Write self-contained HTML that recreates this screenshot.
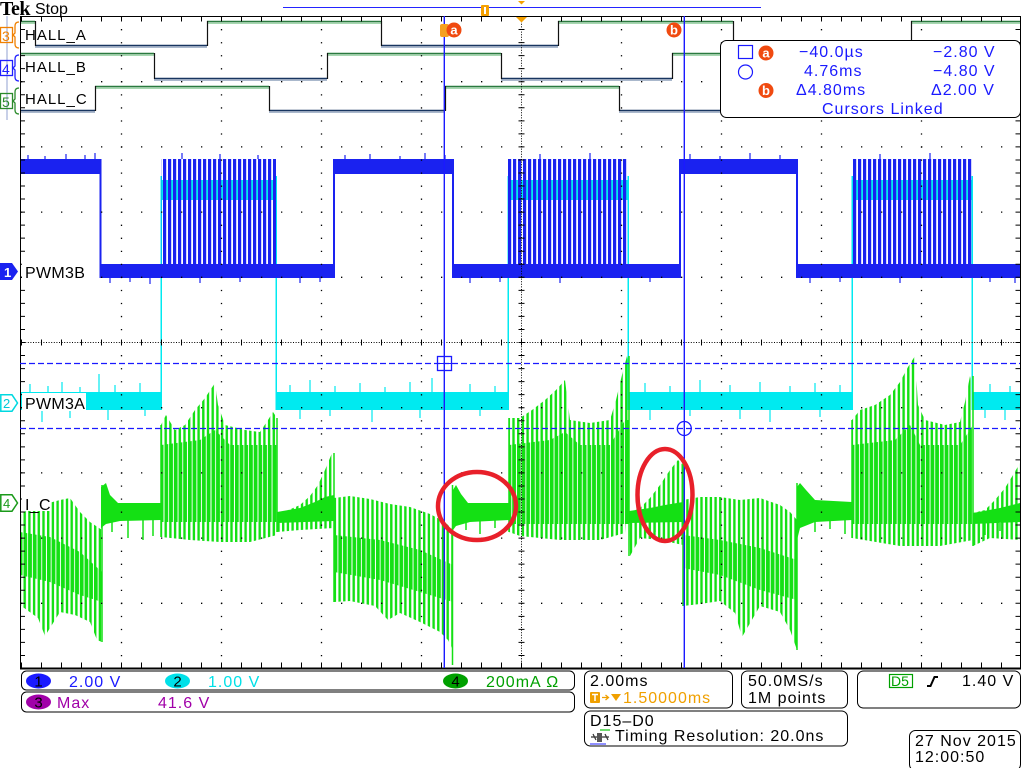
<!DOCTYPE html>
<html><head><meta charset="utf-8">
<style>
html,body{margin:0;padding:0;background:#fff;overflow:hidden;width:1024px;height:768px;}
svg{display:block;}
text{font-family:"Liberation Sans",sans-serif;}
</style></head><body>
<svg width="1024" height="768" viewBox="0 0 1024 768" xmlns="http://www.w3.org/2000/svg">
<defs>
<pattern id="gs" patternUnits="userSpaceOnUse" width="4.7" height="8"><rect x="0" y="0" width="2.4" height="8" fill="#14e014"/></pattern>
<pattern id="gd" patternUnits="userSpaceOnUse" width="4.7" height="8"><rect x="0" y="0" width="3.7" height="8" fill="#14e014"/></pattern>
<pattern id="bp" patternUnits="userSpaceOnUse" x="508" width="5" height="8"><rect x="0" y="0" width="3.2" height="8" fill="#1a22f0"/></pattern>
</defs>
<rect width="1024" height="768" fill="#fff"/>

<!-- header -->
<text x="0" y="15" style="font-family:'Liberation Serif',serif;font-weight:bold;font-size:20px;letter-spacing:-0.5px">Tek</text>
<text x="35" y="14" font-size="16">Stop</text>
<line x1="283" y1="7.5" x2="761" y2="7.5" stroke="#2424ff" stroke-width="1"/>
<rect x="481" y="5" width="8" height="11" rx="1" fill="#f5a000"/>
<rect x="484" y="7" width="2" height="7" fill="#fff"/>
<polygon points="518,1 525,1 521.5,4.5" fill="#f5a000"/>

<line x1="7" y1="16" x2="7" y2="120" stroke="#c8d0e8" stroke-width="2"/>

<!-- digital HALL traces -->
<g fill="none">
<path d="M20 21.5H35M207 21.5H381M558 21.5H733M911 21.5H1020" stroke="#2b7a40" stroke-width="1.6"/>
<path d="M20 23.2H35M207 23.2H381M558 23.2H733M911 23.2H1020" stroke="#a6d8b0" stroke-width="1.5"/>
<path d="M35 45.5H207M381 45.5H558M733 45.5H911" stroke="#183560" stroke-width="1.6"/>
<path d="M35 47.2H207M381 47.2H558M733 47.2H911" stroke="#aab8cc" stroke-width="1.5"/>
<path d="M35.5 21V46M207.5 21V46M381.5 21V46M558.5 21V46M733.5 21V46M911.5 21V46" stroke="#111" stroke-width="1.2"/>

<path d="M20 53.5H154M327 53.5H501M672 53.5H848" stroke="#2b7a40" stroke-width="1.6"/>
<path d="M20 55.2H154M327 55.2H501M672 55.2H848" stroke="#a6d8b0" stroke-width="1.5"/>
<path d="M154 78.5H327M501 78.5H672M848 78.5H1020" stroke="#183560" stroke-width="1.6"/>
<path d="M154 80.2H327M501 80.2H672M848 80.2H1020" stroke="#aab8cc" stroke-width="1.5"/>
<path d="M154.5 53V79M327.5 53V79M501.5 53V79M672.5 53V79M848.5 53V79" stroke="#111" stroke-width="1.2"/>

<path d="M95 86.5H269M445 86.5H619M795 86.5H969" stroke="#2b7a40" stroke-width="1.6"/>
<path d="M95 88.2H269M445 88.2H619M795 88.2H969" stroke="#a6d8b0" stroke-width="1.5"/>
<path d="M20 110.5H95M269 110.5H445M619 110.5H795M969 110.5H1020" stroke="#183560" stroke-width="1.6"/>
<path d="M20 112.2H95M269 112.2H445M619 112.2H795M969 112.2H1020" stroke="#aab8cc" stroke-width="1.5"/>
<path d="M95.5 86V111M269.5 86V111M445.5 86V111M619.5 86V111M795.5 86V111M969.5 86V111" stroke="#111" stroke-width="1.2"/>
</g>

<!-- CH2 cyan -->
<g fill="#00eaf0">
<rect x="20" y="392" width="141" height="18"/>
<rect x="276" y="392" width="232" height="18"/>
<rect x="628" y="392" width="224" height="18"/>
<rect x="972" y="392" width="48" height="18"/>
<rect x="161" y="180" width="115" height="20"/>
<rect x="508" y="180" width="120" height="20"/>
<rect x="852" y="180" width="120" height="20"/>
<rect x="160.5" y="176" width="1.5" height="234"/>
<rect x="275.5" y="176" width="1.5" height="234"/>
<rect x="507.5" y="176" width="1.5" height="234"/>
<rect x="627.5" y="176" width="1.5" height="234"/>
<rect x="851.5" y="176" width="1.5" height="234"/>
<rect x="971.5" y="176" width="1.5" height="234"/>
</g>
<path d="M30 392v-8M48 392v-6M62 392v-10M80 392v-5M99 392v-18M115 392v-7M140 392v-9M290 392v-7M310 392v-12M335 392v-6M360 392v-9M385 392v-5M410 392v-10M432 392v-14M470 392v-8M495 392v-6M645 392v-9M670 392v-6M700 392v-12M730 392v-7M760 392v-10M790 392v-6M815 392v-9M840 392v-7M990 392v-8M1010 392v-6
M42 410v12M70 410v8M108 410v10M145 410v6M300 410v9M330 410v6M372 410v12M420 410v8M480 410v6M650 410v10M690 410v6M740 410v9M770 410v12M820 410v7M985 410v8M1005 410v10" stroke="#00eaf0" stroke-width="1.2" fill="none"/>

<!-- CH1 blue -->
<g fill="#1a22f0">
<rect x="20" y="159" width="81" height="15"/>
<rect x="334" y="159" width="119" height="15"/>
<rect x="680" y="159" width="117" height="15"/>
<rect x="100" y="264" width="234" height="14"/>
<rect x="453" y="264" width="227" height="14"/>
<rect x="797" y="264" width="223" height="14"/>
<rect x="99.5" y="159" width="2" height="119"/>
<rect x="333" y="159" width="2" height="119"/>
<rect x="452" y="159" width="2" height="119"/>
<rect x="679" y="159" width="2" height="119"/>
<rect x="796" y="159" width="2" height="119"/>
<rect x="161" y="159" width="115" height="106" fill="url(#bp)"/>
<rect x="508" y="159" width="120" height="106" fill="url(#bp)"/>
<rect x="852" y="159" width="120" height="106" fill="url(#bp)"/>
</g>
<path d="M28 159v-4M45 159v-3M66 159v-5M85 159v-4M95 159v-6M345 159v-4M370 159v-5M400 159v-3M425 159v-6M445 159v-4M690 159v-5M720 159v-3M750 159v-6M780 159v-4M182 159v-6M220 159v-5M258 159v-4M540 159v-5M590 159v-6M880 159v-5M930 159v-6
M110 278v5M130 278v4M150 278v6M200 278v5M240 278v4M300 278v5M320 278v4M470 278v5M500 278v4M560 278v5M650 278v4M810 278v5M840 278v4M900 278v5M990 278v4M1015 278v5" stroke="#1a22f0" stroke-width="1.2" fill="none"/>

<!-- CH4 green I_C -->
<g>
<path d="M20 515L30 508L45 504L60 500L70 498L80 512L90 522L102 530L102 642L97 640L90 622L75 615L60 612L45 636L38 618L20 605Z" fill="url(#gs)"/>
<path d="M20 532L50 537L80 552L102 572L102 602L80 595L50 582L20 575Z" fill="url(#gd)"/>
<path d="M101 487L106 483L110 495L118 503L161 503L161 520L120 521L106 524L101 528Z" fill="#14e014"/>
<path d="M161 425L166 415L175 430L185 425L195 410L205 398L215 383L218 405L225 425L245 430L260 432L268 420L273 412L277 418L277 535L250 542L220 542L190 540L161 537Z" fill="url(#gs)"/>
<path d="M161 445L200 440L215 430L230 445L277 445L277 522L161 522Z" fill="url(#gd)"/>
<path d="M277 515L300 505L310 496L318 485L325 470L332 453L334 458L334 528L300 530L277 532Z" fill="url(#gs)"/>
<path d="M277 512L300 508L315 502L325 497L334 495L334 521L277 523Z" fill="#14e014"/>
<path d="M334 498L350 496L370 499L390 504L410 507L430 514L445 522L453 530L453 650L448 640L440 632L420 622L400 613L388 620L375 606L350 601L334 602Z" fill="url(#gs)"/>
<path d="M334 535L380 540L420 550L453 565L453 602L420 592L380 580L334 572Z" fill="url(#gd)"/>
<path d="M453 490L456 485L461 494L468 503L509 503L509 520L470 522L456 526L453 530Z" fill="#14e014"/>
<path d="M509 418L520 418L532 410L545 400L556 390L565 380L570 420L590 423L610 420L616 400L622 375L627 356L629 368L629 470L625 533L600 540L560 540L520 536L509 532Z" fill="url(#gs)"/>
<path d="M509 445L550 440L565 432L580 445L610 445L625 420L629 420L629 524L509 524Z" fill="url(#gd)"/>
<path d="M629 513L640 508L650 498L660 485L670 470L678 460L683 465L683 545L660 540L640 538L630 556Z" fill="url(#gs)"/>
<path d="M629 511L650 508L665 505L683 502L683 522L629 523Z" fill="#14e014"/>
<path d="M683 500L700 497L720 497L740 500L760 498L780 505L790 512L797 520L797 650L790 630L780 612L760 606L742 637L735 613L720 601L700 604L683 606Z" fill="url(#gs)"/>
<path d="M683 535L720 540L760 548L797 560L797 600L760 590L720 575L683 568Z" fill="url(#gd)"/>
<path d="M797 487L800 483L806 490L815 500L852 502L852 520L815 522L800 528L797 540Z" fill="#14e014"/>
<path d="M852 420L860 410L875 405L890 395L900 382L908 367L915 356L918 405L925 420L945 425L960 422L965 402L970 376L973 390L973 540L940 546L900 546L870 541L852 538Z" fill="url(#gs)"/>
<path d="M852 445L895 440L910 425L920 445L960 445L973 425L973 524L852 524Z" fill="url(#gd)"/>
<path d="M973 513L985 510L995 500L1005 488L1013 475L1020 463L1020 540L990 538L973 546Z" fill="url(#gs)"/>
<path d="M973 513L1000 508L1020 503L1020 522L973 524Z" fill="#14e014"/>
<path d="M102 485V642M161 425V537M277 418V532M334 453V602M452.5 485V665M509 418V532M629 356V556M683 460V606M797 483V650M852 420V538M973 376V546
M112 520v12M128 520v18M143 520v20M153 520v16M466 520v10M480 520v14M495 520v8M640 522v15M655 522v10M815 520v12M830 520v9M845 520v14M985 523v12M1000 523v8" stroke="#14e014" stroke-width="1.5" fill="none"/>
</g>

<!-- graticule (drawn over traces) -->
<rect x="20.5" y="16.5" width="1000" height="651.5" fill="none" stroke="#000" stroke-width="1"/>
<line x1="20" y1="668.5" x2="1021" y2="668.5" stroke="#000" stroke-width="2"/>
<g stroke="#000" stroke-width="1.3" fill="none" stroke-dasharray="1.3 11.74">
<line x1="121.5" y1="16" x2="121.5" y2="668"/>
<line x1="221.5" y1="16" x2="221.5" y2="668"/>
<line x1="321.5" y1="16" x2="321.5" y2="668"/>
<line x1="421.5" y1="16" x2="421.5" y2="668"/>
<line x1="621.5" y1="16" x2="621.5" y2="668"/>
<line x1="721.5" y1="16" x2="721.5" y2="668"/>
<line x1="821.5" y1="16" x2="821.5" y2="668"/>
<line x1="921.5" y1="16" x2="921.5" y2="668"/>
</g>
<g stroke="#000" stroke-width="1.3" fill="none" stroke-dasharray="1.3 18.7">
<line x1="21" y1="81.7" x2="1021" y2="81.7"/>
<line x1="21" y1="146.9" x2="1021" y2="146.9"/>
<line x1="21" y1="212.1" x2="1021" y2="212.1"/>
<line x1="21" y1="277.3" x2="1021" y2="277.3"/>
<line x1="21" y1="407.7" x2="1021" y2="407.7"/>
<line x1="21" y1="472.9" x2="1021" y2="472.9"/>
<line x1="21" y1="538.1" x2="1021" y2="538.1"/>
<line x1="21" y1="603.3" x2="1021" y2="603.3"/>
</g>
<g stroke="#000" fill="none">
<line x1="521.5" y1="16" x2="521.5" y2="668" stroke-width="1" stroke-dasharray="1 1.6"/>
<line x1="20" y1="342.5" x2="1020" y2="342.5" stroke-width="1" stroke-dasharray="1 1.6"/>
<line x1="521.5" y1="16" x2="521.5" y2="668" stroke-width="6" stroke-dasharray="1 12.04"/>
<line x1="21" y1="342.5" x2="1021" y2="342.5" stroke-width="6" stroke-dasharray="1 19"/>
<line x1="21" y1="19" x2="1021" y2="19" stroke-width="5" stroke-dasharray="1 19"/>
<line x1="21" y1="665" x2="1021" y2="665" stroke-width="5" stroke-dasharray="1 19"/>
<line x1="22.5" y1="16" x2="22.5" y2="668" stroke-width="5" stroke-dasharray="1 12.04"/>
<line x1="1018" y1="16" x2="1018" y2="668" stroke-width="5" stroke-dasharray="1 12.04"/>
</g>
<polygon points="516,17 527,17 521.5,22.5" fill="#f5a000"/>

<!-- HALL labels -->
<g font-size="15" letter-spacing="1" fill="#000">
<text x="25" y="40">HALL_A</text>
<text x="25" y="72">HALL_B</text>
<text x="25" y="104">HALL_C</text>
</g>
<g fill="none" stroke-width="1.3">
<rect x="0.5" y="27.5" width="12" height="15" stroke="#f08000"/>
<path d="M19 22Q15 22 15 26V33L13 35L15 37V44Q15 48 19 48" stroke="#f08000"/>
<rect x="0.5" y="60.5" width="12" height="15" stroke="#2020ff"/>
<path d="M19 55Q15 55 15 59V66L13 68L15 70V77Q15 81 19 81" stroke="#2020ff"/>
<rect x="0.5" y="93.5" width="12" height="15" stroke="#2a8a2a"/>
<path d="M19 88Q15 88 15 92V99L13 101L15 103V110Q15 114 19 114" stroke="#2a8a2a"/>
</g>
<g font-size="14">
<text x="2" y="41" fill="#f08000">3</text>
<text x="2" y="74" fill="#2020ff">4</text>
<text x="2" y="107" fill="#2a8a2a">5</text>
</g>

<!-- analog labels -->
<rect x="22" y="263" width="62" height="16" fill="#fff"/>
<text x="25" y="278" font-size="16" letter-spacing="0.3">PWM3B</text>
<rect x="22" y="393" width="64" height="18" fill="#fff"/>
<text x="25" y="409" font-size="16" letter-spacing="0.3">PWM3A</text>
<rect x="22" y="495" width="28" height="16" fill="#fff"/>
<text x="25" y="510" font-size="16" letter-spacing="0.3">I_C</text>
<polygon points="0,263 12,263 18,271.5 12,280 0,280" fill="#1a22f0"/>
<text x="4" y="277" font-size="13" font-weight="bold" fill="#fff">1</text>
<polygon points="0.8,394.8 12,394.8 17.5,403 12,411.2 0.8,411.2" fill="#fff" stroke="#00d8e0" stroke-width="1.5"/>
<text x="3" y="408" font-size="13" fill="#00c8d8">2</text>
<polygon points="0.8,494.8 12,494.8 17.5,503 12,511.2 0.8,511.2" fill="#fff" stroke="#1a9a1a" stroke-width="1.5"/>
<text x="3" y="508" font-size="13" fill="#1a9a1a">4</text>

<!-- cursors -->
<g stroke="#1a1aff" fill="none">
<line x1="20" y1="363.5" x2="1020" y2="363.5" stroke-width="1.3" stroke-dasharray="6 3"/>
<line x1="20" y1="428.5" x2="1020" y2="428.5" stroke-width="1.3" stroke-dasharray="6 3"/>
<line x1="444.3" y1="16" x2="444.3" y2="668" stroke-width="1.4"/>
<line x1="684.3" y1="16" x2="684.3" y2="668" stroke-width="1.4"/>
<rect x="437.5" y="356.5" width="14" height="14" stroke-width="1.3"/>
<line x1="437" y1="363.5" x2="452" y2="363.5" stroke-width="1"/>
<circle cx="684.3" cy="428.5" r="7" stroke-width="1.3"/>
</g>
<rect x="440" y="24" width="9" height="13" rx="2" fill="#f5a020"/>
<circle cx="454" cy="30" r="7.5" fill="#f04a10"/>
<text x="454" y="34.5" font-size="13" font-weight="bold" fill="#fff" text-anchor="middle">a</text>
<circle cx="674" cy="30" r="7.5" fill="#f04a10"/>
<text x="674" y="34.5" font-size="13" font-weight="bold" fill="#fff" text-anchor="middle">b</text>

<!-- red ellipses -->
<ellipse cx="477" cy="506" rx="39" ry="34" fill="none" stroke="#e8202a" stroke-width="4.5"/>
<ellipse cx="665" cy="495" rx="27.5" ry="46" fill="none" stroke="#e8202a" stroke-width="4.5"/>

<!-- cursor readout box -->
<rect x="720.5" y="40.5" width="300" height="77" rx="6" fill="#fff" stroke="#000" stroke-width="1"/>
<g fill="#1a1aff" font-size="16" letter-spacing="1">
<rect x="738.5" y="45.5" width="14" height="13" fill="none" stroke="#1a1aff" stroke-width="1.2"/>
<circle cx="745.5" cy="72" r="7" fill="none" stroke="#1a1aff" stroke-width="1.2"/>
<text x="799" y="57">−40.0µs</text>
<text x="933" y="57">−2.80 V</text>
<text x="804" y="76">4.76ms</text>
<text x="933" y="76">−4.80 V</text>
<text x="796" y="95">Δ4.80ms</text>
<text x="931" y="95">Δ2.00 V</text>
<text x="822" y="114">Cursors Linked</text>
</g>
<circle cx="766" cy="53" r="7.5" fill="#f04a10"/>
<text x="766" y="57.5" font-size="13" font-weight="bold" fill="#fff" text-anchor="middle">a</text>
<circle cx="766" cy="90.5" r="7.5" fill="#f04a10"/>
<text x="766" y="95" font-size="13" font-weight="bold" fill="#fff" text-anchor="middle">b</text>

<!-- bottom status -->
<g fill="#fff" stroke="#000" stroke-width="1">
<rect x="21.5" y="671" width="553" height="19" rx="5"/>
<rect x="21.5" y="692" width="553" height="20" rx="5"/>
<rect x="584.5" y="671" width="148" height="37" rx="6"/>
<rect x="741.5" y="671" width="106" height="37" rx="6"/>
<rect x="857.5" y="671" width="163" height="37" rx="6"/>
<rect x="584.5" y="711" width="263" height="35" rx="6"/>
<rect x="909.5" y="730.5" width="111" height="40" rx="6"/>
</g>
<ellipse cx="38.5" cy="681" rx="12.5" ry="7.5" fill="#1a1aff"/>
<text x="38.5" y="686.5" font-size="15" text-anchor="middle">1</text>
<ellipse cx="177.5" cy="681" rx="12.5" ry="7.5" fill="#00e0e8"/>
<text x="177.5" y="686.5" font-size="15" text-anchor="middle">2</text>
<ellipse cx="455.5" cy="681" rx="12.5" ry="7.5" fill="#00a000"/>
<text x="455.5" y="686.5" font-size="15" text-anchor="middle">4</text>
<ellipse cx="38.5" cy="702" rx="12.5" ry="7.5" fill="#a000a8"/>
<text x="38.5" y="707.5" font-size="15" text-anchor="middle">3</text>
<g font-size="16" letter-spacing="1">
<text x="69" y="687" fill="#1a1aff">2.00 V</text>
<text x="208" y="687" fill="#00e0e8">1.00 V</text>
<text x="486" y="687" fill="#00a000">200mA Ω</text>
<text x="57" y="708" fill="#a000a8">Max</text>
<text x="158" y="708" fill="#a000a8">41.6 V</text>
<text x="590" y="686" fill="#000">2.00ms</text>
<text x="623" y="703" fill="#f0a000">1.50000ms</text>
<text x="748" y="686" fill="#000">50.0MS/s</text>
<text x="748" y="703" fill="#000">1M points</text>
<text x="962" y="686" fill="#000">1.40 V</text>
<text x="590" y="726" fill="#000">D15–D0</text>
<text x="615" y="741" fill="#000">Timing Resolution: 20.0ns</text>
<text x="915" y="746" fill="#000">27 Nov 2015</text>
<text x="915" y="762" fill="#000">12:00:50</text>
</g>
<rect x="590" y="692" width="10" height="11" rx="1" fill="#f0a000"/>
<path d="M592 694.5H598M595 694.5V701" stroke="#fff" stroke-width="1.5"/>
<path d="M602 697.5H608M605.5 695L608.5 697.5L605.5 700" stroke="#f0a000" stroke-width="1.3" fill="none"/>
<polygon points="611,694 621,694 616,701" fill="#f0a000"/>
<rect x="889.5" y="674.5" width="23" height="13" fill="none" stroke="#00a000" stroke-width="1.2"/>
<text x="891" y="686" font-size="14" fill="#00a000">D5</text>
<path d="M927 686H930.5L934.5 677H938" stroke="#000" stroke-width="2" fill="none"/>
<rect x="590" y="731" width="20" height="13" fill="#fff"/>
<path d="M590 744H606" stroke="#2020ff" stroke-width="1"/>
<path d="M600 730H610" stroke="#40d040" stroke-width="1.5"/>
<rect x="597" y="733" width="5" height="9" fill="#555"/>
<path d="M591 737H597M602 737H609M593 734L596 740M605 734L608 740" stroke="#333" stroke-width="1.2"/>
</svg>
</body></html>
